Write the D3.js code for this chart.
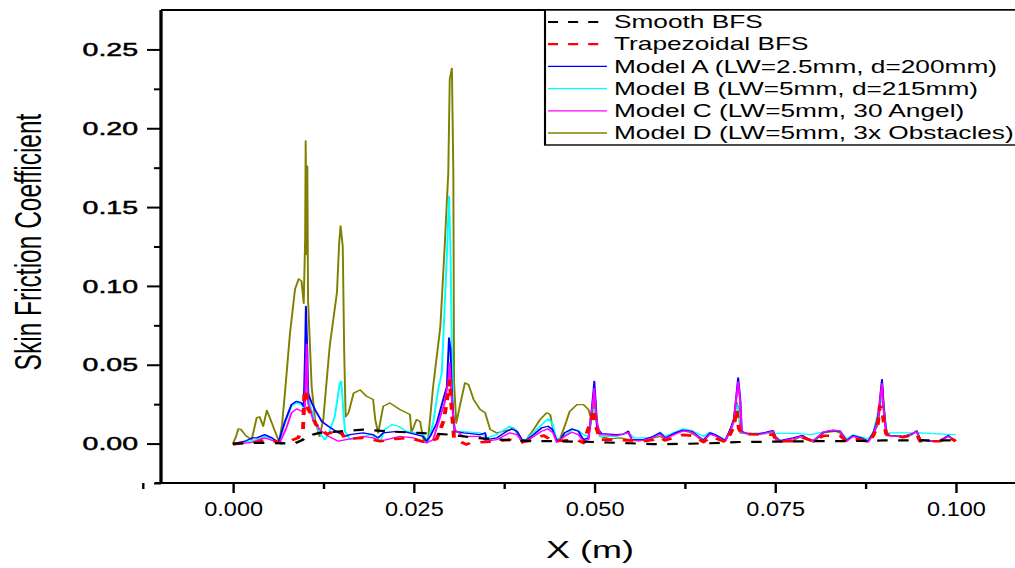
<!DOCTYPE html>
<html lang="en">
<head>
  <meta charset="UTF-8">
  <title>Skin Friction Coefficient</title>
  <script src="https://d3js.org/d3.v7.min.js"></script>
  <style>
    body { margin: 0; background: #fff; }
    svg { display: block; font-family: "Liberation Sans", Arial, sans-serif; }
    .tick line { stroke: #000; }
  </style>
</head>
<body>
<svg width="1015" height="568"></svg>
<script>
// data: [x (m), Cf]
const smoothBFS = [[0,0],[0.004,0.0005],[0.0085,0],[0.0095,0.002],[0.0105,0.005],[0.012,0.0068],[0.015,0.0078],[0.018,0.0089],
  [0.0225,0.0075],[0.0257,0.0068],[0.03,0.0057],[0.0335,0.0036],[0.037,0.0025],[0.041,0.0015],[0.045,0.0015],[0.05,0.001],
  [0.055,0.0002],[0.058,-0.0004],[0.062,-0.0002],[0.066,0.0002],[0.07,0.001],[0.075,0.0012],[0.08,0.0015],[0.085,0.0015],[0.09,0.002],[0.1,0.002]];

const trapezoidalBFS = [[0,-0.0006],[0.0017,0.0008],[0.0033,0.0008],[0.0044,0.0025],[0.0058,0.0015],[0.007,0],[0.0081,0.0021],
  [0.009,0.0036],[0.0097,0.0089],[0.0099,0.033],[0.0101,0.034],[0.0104,0.022],[0.0108,0.019],[0.0115,0.012],[0.013,0.006],
  [0.0148,0.0089],[0.0155,0.003],[0.018,0.0035],[0.0204,0.0015],[0.0225,0.003],[0.0245,0.0036],[0.0268,0.0005],[0.0282,0.003],
  [0.0292,0.015],[0.0297,0.03],[0.03,0.04],[0.0303,0.02],[0.0306,0.003],[0.0323,-0.0006],[0.0328,0.0004],[0.0365,0.0015],
  [0.0383,0.0025],[0.04,0.0008],[0.0406,0.0015],[0.042,0.0036],[0.043,0.0051],[0.0443,0.0015],[0.0476,0.0025],[0.0485,0.0004],
  [0.0496,0.0152],[0.0499,0.0216],[0.0503,0.0099],[0.0508,0.0025],[0.0522,0.0025],[0.0549,0.002],[0.0568,0.0015],[0.0582,0.0025],
  [0.0591,0.004],[0.0598,0.002],[0.0612,0.004],[0.0623,0.0055],[0.0635,0.005],[0.0644,0.003],[0.0651,0.001],[0.066,0.004],
  [0.0667,0.0035],[0.0681,0.001],[0.0688,0.006],[0.0693,0.011],[0.0697,0.0216],[0.07,0.0095],[0.0704,0.006],[0.0738,0.0057],
  [0.0748,0.0057],[0.0752,0.0015],[0.0775,0.0015],[0.0787,0.004],[0.0803,0.0015],[0.0817,0.005],[0.083,0.005],[0.084,0.005],
  [0.0849,0.0015],[0.0858,0.003],[0.0869,0.0025],[0.0879,0.0008],[0.0886,0.005],[0.0892,0.012],[0.0895,0.0237],[0.0898,0.022],
  [0.0901,0.012],[0.0904,0.006],[0.0927,0.004],[0.0946,0.006],[0.0951,0.0015],[0.0978,0.0015],[0.099,0.004],[0.1,0.0015]];

const modelA = [[0,0],[0.0017,0.0015],[0.0026,0.0036],[0.0033,0.0036],[0.0044,0.0057],[0.0054,0.0036],[0.0063,0.0008],[0.0072,0.014],
  [0.0081,0.0247],[0.0088,0.0268],[0.0095,0.0258],[0.0098,0.0237],[0.01,0.06],[0.0101,0.087],[0.0103,0.0575],[0.0104,0.032],
  [0.0109,0.0258],[0.0116,0.0195],[0.0123,0.014],[0.0132,0.011],[0.0146,0.0068],[0.0155,0.0046],[0.0162,0.0057],[0.018,0.0068],
  [0.0194,0.0057],[0.0201,0.0036],[0.0208,0.0068],[0.0227,0.0078],[0.024,0.0072],[0.0254,0.0057],[0.0263,0.0046],[0.0268,0.0015],
  [0.0273,0.0046],[0.0282,0.013],[0.0291,0.028],[0.0296,0.036],[0.0299,0.067],[0.0301,0.06],[0.0303,0.03],[0.0305,0.0173],
  [0.0307,0.0078],[0.0319,0.0068],[0.0342,0.0057],[0.0349,0.0068],[0.0351,0.0025],[0.0365,0.0036],[0.0379,0.0078],[0.0386,0.0093],
  [0.0393,0.0078],[0.04,0.0025],[0.0406,0.0021],[0.0416,0.0057],[0.0427,0.0099],[0.0436,0.011],[0.0442,0.0089],[0.0448,0.0019],
  [0.0453,0.0025],[0.0459,0.0068],[0.0469,0.0093],[0.0478,0.0078],[0.0485,0.0025],[0.0492,0.0036],[0.0496,0.0195],[0.0499,0.034],
  [0.05,0.0395],[0.0502,0.0258],[0.0504,0.0099],[0.051,0.0063],[0.0531,0.0057],[0.054,0.006],[0.0547,0.0078],[0.0552,0.0025],
  [0.0568,0.0025],[0.0582,0.0046],[0.0591,0.0068],[0.0598,0.0036],[0.0612,0.0068],[0.0623,0.0085],[0.0635,0.0078],[0.0644,0.0046],
  [0.0651,0.0021],[0.066,0.0068],[0.0667,0.0057],[0.0681,0.0019],[0.0688,0.0089],[0.0693,0.0152],[0.0696,0.028],[0.0699,0.0417],
  [0.0702,0.028],[0.0704,0.0078],[0.0711,0.0063],[0.0729,0.0063],[0.0738,0.0072],[0.0747,0.0082],[0.075,0.0046],[0.0757,0.0019],
  [0.0775,0.0036],[0.0787,0.0051],[0.0796,0.003],[0.0803,0.0019],[0.0817,0.0072],[0.083,0.0082],[0.084,0.0078],[0.0849,0.0019],
  [0.0858,0.0051],[0.0869,0.0036],[0.0879,0.0015],[0.0886,0.0068],[0.0892,0.0152],[0.0894,0.0226],[0.0898,0.0406],[0.09,0.0247],
  [0.0904,0.0057],[0.0909,0.005],[0.0927,0.0046],[0.0939,0.006],[0.0946,0.0078],[0.0951,0.0025],[0.0964,0.0015],[0.0978,0.0019],
  [0.099,0.0051],[0.0997,0.0025],[0.1,0.0025]];

const modelB = [[0,-0.0006],[0.0017,0.0008],[0.0033,0.0025],[0.0044,0.0046],[0.0054,0.0025],[0.0063,0.0008],[0.0072,0.013],
  [0.0081,0.0237],[0.0088,0.0258],[0.0095,0.0247],[0.0099,0.0216],[0.0101,0.03],[0.0103,0.042],[0.0106,0.0258],[0.0114,0.013],
  [0.012,0.0068],[0.0127,0.0025],[0.0132,0.0057],[0.0141,0.0173],[0.0148,0.0385],[0.015,0.0395],[0.0153,0.0195],[0.0155,0.0078],
  [0.0162,0.0025],[0.0176,0.0036],[0.019,0.0057],[0.0199,0.0036],[0.0204,0.0015],[0.021,0.0089],[0.022,0.012],[0.0229,0.011],
  [0.024,0.0078],[0.0254,0.0068],[0.0263,0.0057],[0.027,0.0015],[0.0277,0.013],[0.0284,0.034],[0.0289,0.045],[0.0291,0.066],
  [0.0296,0.119],[0.0299,0.157],[0.0301,0.123],[0.0303,0.06],[0.0305,0.013],[0.0307,0.0068],[0.0314,0.0078],[0.0342,0.0068],
  [0.0351,0.0036],[0.0365,0.0057],[0.0383,0.011],[0.0391,0.0089],[0.04,0.0025],[0.0406,0.0025],[0.042,0.0089],[0.0436,0.0157],
  [0.0442,0.013],[0.0448,0.0021],[0.0455,0.0036],[0.0464,0.0068],[0.0469,0.0089],[0.0478,0.0083],[0.0485,0.0057],[0.0492,0.0046],
  [0.0499,0.0216],[0.0504,0.011],[0.0508,0.0046],[0.0531,0.0046],[0.0547,0.0068],[0.0555,0.0036],[0.0577,0.0036],[0.0591,0.0072],
  [0.0598,0.0046],[0.0623,0.0093],[0.0635,0.0082],[0.0651,0.0046],[0.066,0.0072],[0.0681,0.0025],[0.069,0.0089],[0.0697,0.025],
  [0.07,0.02],[0.0704,0.0068],[0.075,0.0065],[0.078,0.0065],[0.0799,0.0057],[0.0817,0.0072],[0.083,0.0085],[0.084,0.008],
  [0.0849,0.003],[0.0858,0.0055],[0.0879,0.003],[0.0886,0.007],[0.0898,0.03],[0.0902,0.015],[0.0905,0.0068],[0.095,0.0068],
  [0.0997,0.0057],[0.1,0.0057]];

const modelC = [[0,-0.0006],[0.0026,0.0008],[0.0044,0.0036],[0.0058,0.0015],[0.0065,0.0008],[0.0074,0.0099],[0.0081,0.0195],
  [0.0088,0.022],[0.0096,0.0205],[0.0099,0.0184],[0.0101,0.045],[0.0102,0.063],[0.0103,0.04],[0.0104,0.0258],[0.0111,0.0152],
  [0.012,0.0089],[0.0132,0.0046],[0.0146,0.0015],[0.0162,0.003],[0.018,0.0046],[0.0194,0.0036],[0.0204,0.0015],[0.0217,0.003],
  [0.0231,0.0046],[0.025,0.0036],[0.0268,0.0004],[0.0277,0.0025],[0.0287,0.0173],[0.0293,0.0258],[0.0298,0.04],[0.03,0.051],
  [0.0302,0.035],[0.0305,0.015],[0.0307,0.0089],[0.0319,0.0046],[0.0342,0.0046],[0.0351,0.0015],[0.0365,0.0025],[0.0383,0.0068],
  [0.0393,0.0057],[0.04,0.0015],[0.0406,0.0015],[0.0427,0.0078],[0.0436,0.0093],[0.0443,0.0068],[0.0448,0.0008],[0.0459,0.0046],
  [0.0469,0.0072],[0.0478,0.0057],[0.0485,0.0015],[0.0492,0.0025],[0.0499,0.03],[0.05,0.035],[0.0503,0.015],[0.0508,0.0057],
  [0.0531,0.005],[0.0547,0.007],[0.0552,0.002],[0.0568,0.002],[0.0582,0.004],[0.0591,0.006],[0.0598,0.003],[0.0612,0.006],
  [0.0623,0.008],[0.0635,0.0072],[0.0644,0.004],[0.0651,0.0015],[0.066,0.006],[0.0667,0.005],[0.0681,0.0015],[0.0688,0.008],
  [0.0693,0.014],[0.0696,0.027],[0.0699,0.039],[0.0702,0.026],[0.0704,0.007],[0.0729,0.0058],[0.0747,0.0078],[0.075,0.004],
  [0.0757,0.0015],[0.0775,0.003],[0.0787,0.0046],[0.0803,0.0015],[0.0817,0.0075],[0.083,0.0086],[0.084,0.008],[0.0849,0.0015],
  [0.0858,0.0046],[0.0869,0.003],[0.0879,0.001],[0.0886,0.006],[0.0892,0.014],[0.0898,0.038],[0.09,0.023],[0.0904,0.005],
  [0.0927,0.0042],[0.0946,0.0075],[0.0951,0.002],[0.0978,0.0015],[0.099,0.0046],[0.1,0.002]];

const modelD = [[0,0],[0.0004,0.004],[0.00075,0.0093],[0.0011,0.009],[0.0018,0.005],[0.0026,0.0025],[0.0033,0.0165],[0.0037,0.017],
  [0.0042,0.011],[0.0047,0.021],[0.0051,0.0165],[0.0061,0.0046],[0.0064,0.001],[0.0068,0.012],[0.0072,0.032],[0.0079,0.07],
  [0.0086,0.098],[0.0091,0.1045],[0.0095,0.103],[0.0098,0.089],[0.01,0.13],[0.01007,0.192],[0.0102,0.12],[0.0103,0.176],
  [0.0104,0.091],[0.0109,0.036],[0.0114,0.014],[0.012,0.0046],[0.0125,0.015],[0.0134,0.062],[0.0144,0.096],[0.0147,0.127],
  [0.0149,0.138],[0.0152,0.125],[0.0154,0.058],[0.0156,0.017],[0.016,0.0195],[0.0167,0.032],[0.0176,0.034],[0.0185,0.03],
  [0.0194,0.028],[0.0197,0.015],[0.0201,0.0068],[0.0208,0.0237],[0.0217,0.0258],[0.0231,0.0216],[0.0245,0.0184],[0.0247,0.007],
  [0.0254,0.0152],[0.0259,0.014],[0.0264,0.0015],[0.027,0.0025],[0.0277,0.036],[0.0287,0.074],[0.0293,0.125],[0.0298,0.172],
  [0.03,0.231],[0.0303,0.238],[0.0305,0.172],[0.0306,0.0387],[0.0309,0.013],[0.0315,0.026],[0.0321,0.0385],[0.0326,0.0374],
  [0.0333,0.028],[0.0342,0.0216],[0.0349,0.0195],[0.0356,0.0089],[0.0365,0.0068],[0.0374,0.0078],[0.0383,0.0089],[0.0388,0.0099],
  [0.0395,0.0057],[0.04,0.0004],[0.0406,0.0025],[0.0416,0.0089],[0.0425,0.0152],[0.0434,0.0195],[0.0439,0.0184],[0.0443,0.0089],
  [0.0448,0.0025],[0.0453,0.0036],[0.0459,0.011],[0.0466,0.0205],[0.0476,0.0247],[0.0485,0.0247],[0.0492,0.0216],[0.0496,0.0152],
  [0.0499,0.022],[0.0501,0.028],[0.0504,0.01],[0.0508,0.0046],[0.0522,0.003],[0.0536,0.0036],[0.0549,0.0025],[0.0561,0.0015],
  [0.0582,0.0036],[0.0591,0.0046],[0.0598,0.0025],[0.0609,0.0063],[0.0621,0.0082],[0.0632,0.0072],[0.0642,0.0046],[0.0649,0.0015],
  [0.066,0.0063],[0.0669,0.0046],[0.0681,0.0015],[0.0688,0.0078],[0.0693,0.0152],[0.0697,0.026],[0.07,0.022],[0.0702,0.0068],
  [0.0715,0.006],[0.0738,0.0063],[0.0748,0.0078],[0.0752,0.0015],[0.0775,0.0019],[0.0789,0.0051],[0.0796,0.0025],[0.0803,0.0008],
  [0.0817,0.0068],[0.0833,0.0078],[0.084,0.0068],[0.0849,0.0015],[0.0858,0.0051],[0.0868,0.0036],[0.0877,0.0008],[0.0886,0.0057],
  [0.0893,0.013],[0.0895,0.0237],[0.0898,0.0395],[0.0901,0.0216],[0.0904,0.0068],[0.0909,0.0051],[0.0927,0.0046],[0.0939,0.0055],
  [0.0946,0.0082],[0.0951,0.0025],[0.0964,0.0015],[0.0978,0.0015],[0.099,0.0046],[0.0997,0.002],[0.1,0.002]];

const seriesNames = ["Smooth BFS", "Trapezoidal BFS", "Model A (LW=2.5mm, d=200mm)", "Model B (LW=5mm, d=215mm)",
  "Model C (LW=5mm, 30 Angel)", "Model D (LW=5mm, 3x Obstacles)"];
const xTicks = [0, 0.025, 0.05, 0.075, 0.1];
const yTicks = [0, 0.05, 0.1, 0.15, 0.2, 0.25];

// the source picture is stretched sideways, so everything is drawn in a group scaled in x
const sx = 1.5;
const svg = d3.select("svg");
const g = svg.append("g").attr("transform", `scale(${sx},1)`);

const plotLeft = 161, plotRight = 1028, plotTop = 10, plotBottom = 483;
const x = d3.scaleLinear().domain([-0.01, 0.11]).range([160.6 / sx, plotRight / sx]);
const y = d3.scaleLinear().domain([-0.025, 0.275]).range([plotBottom, plotTop]);

const series = [
  { data: modelD, color: "#808000", width: 1.3 },
  { data: modelB, color: "#00FFFF", width: 1.3 },
  { data: modelA, color: "#0000FF", width: 1.3 },
  { data: modelC, color: "#FF00FF", width: 1.3 },
  { data: trapezoidalBFS, color: "#FF0000", width: 2.6, dash: "7,7" },
  { data: smoothBFS, color: "#000000", width: 2.2, dash: "7,7" }
];

const line = d3.line().x(d => x(d[0])).y(d => y(d[1]));

g.append("g").selectAll("path")
  .data(series)
  .join("path")
  .attr("d", d => line(d.data))
  .attr("fill", "none")
  .attr("stroke", d => d.color)
  .attr("stroke-width", d => d.width)
  .attr("stroke-dasharray", d => d.dash || null)
  .attr("stroke-linejoin", "round");

// axes
const yAxis = g.append("g").attr("transform", `translate(${plotLeft / sx},0)`)
  .call(d3.axisLeft(y).tickValues(yTicks).tickSize(14 / sx).tickPadding(6).tickFormat(d3.format(".2f")));
yAxis.select(".domain").remove();
yAxis.selectAll(".tick line").attr("stroke-width", 2);
yAxis.selectAll("text").attr("font-size", 19).attr("fill", "#000")
  .attr("stroke", "#000").attr("stroke-width", 0.5)
  .attr("font-family", "Liberation Sans, Arial, sans-serif");

const yMinor = g.append("g").attr("transform", `translate(${plotLeft / sx},0)`)
  .call(d3.axisLeft(y).tickValues(d3.range(-0.025, 0.27, 0.05)).tickSize(7 / sx).tickFormat(""));
yMinor.select(".domain").remove();
yMinor.selectAll(".tick line").attr("stroke-width", 2);

const xAxis = g.append("g").attr("transform", `translate(0,${plotBottom})`)
  .call(d3.axisBottom(x).tickValues(xTicks).tickSize(10).tickPadding(8).tickFormat(d3.format(".3f")));
xAxis.select(".domain").remove();
xAxis.selectAll(".tick line").attr("stroke-width", 1.6);
xAxis.selectAll("text").attr("font-size", 21).attr("fill", "#000")
  .attr("transform", `scale(${1.12 / sx},1)`)
  .attr("font-family", "Liberation Sans, Arial, sans-serif");

const xMinor = g.append("g").attr("transform", `translate(0,${plotBottom})`)
  .call(d3.axisBottom(x).tickValues(d3.range(-0.0125, 0.11, 0.025)).tickSize(6).tickFormat(""));
xMinor.select(".domain").remove();
xMinor.selectAll(".tick line").attr("stroke-width", 1.6);

// frame lines
g.append("line").attr("x1", plotLeft / sx).attr("x2", plotLeft / sx).attr("y1", plotTop).attr("y2", plotBottom)
  .attr("stroke", "#000").attr("stroke-width", 2.2);
g.append("line").attr("x1", 155 / sx).attr("x2", 1015 / sx).attr("y1", plotBottom).attr("y2", plotBottom)
  .attr("stroke", "#000").attr("stroke-width", 2.2);
g.append("line").attr("x1", plotLeft / sx).attr("x2", 1015 / sx).attr("y1", plotTop).attr("y2", plotTop)
  .attr("stroke", "#000").attr("stroke-width", 2.2);

// axis titles
g.append("text")
  .attr("transform", `translate(${28 / sx},242) rotate(-90)`)
  .attr("text-anchor", "middle").attr("dy", "0.35em")
  .attr("font-size", 24.5)
  .text("Skin Friction Coefficient");

g.append("text")
  .attr("x", 590 / sx).attr("y", 558)
  .attr("text-anchor", "middle")
  .attr("font-size", 24)
  .text("X (m)");

// legend
const legend = g.append("g");
legend.append("rect")
  .attr("x", 545 / sx).attr("y", plotTop).attr("width", (1040 - 545) / sx).attr("height", 145 - plotTop)
  .attr("fill", "#fff").attr("stroke", "#000").attr("stroke-width", 1.4);

const legendStyle = [series[5], series[4], series[2], series[1], series[3], series[0]];
const rowY = d3.scaleLinear().domain([0, 5]).range([22, 133]);
const rows = legend.selectAll("g.row")
  .data(seriesNames)
  .join("g").attr("class", "row")
  .attr("transform", (d, i) => `translate(0,${rowY(i)})`);
rows.append("line")
  .attr("x1", 548 / sx).attr("x2", 607 / sx)
  .attr("stroke", (d, i) => legendStyle[i].color)
  .attr("stroke-width", (d, i) => legendStyle[i].dash ? 2.2 : 1.3)
  .attr("stroke-dasharray", (d, i) => legendStyle[i].dash ? "6.7,6.7" : null);
rows.append("text")
  .attr("x", 614 / sx).attr("dy", "0.35em")
  .attr("font-size", 17.5)
  .text(d => d);
</script>
</body>
</html>
